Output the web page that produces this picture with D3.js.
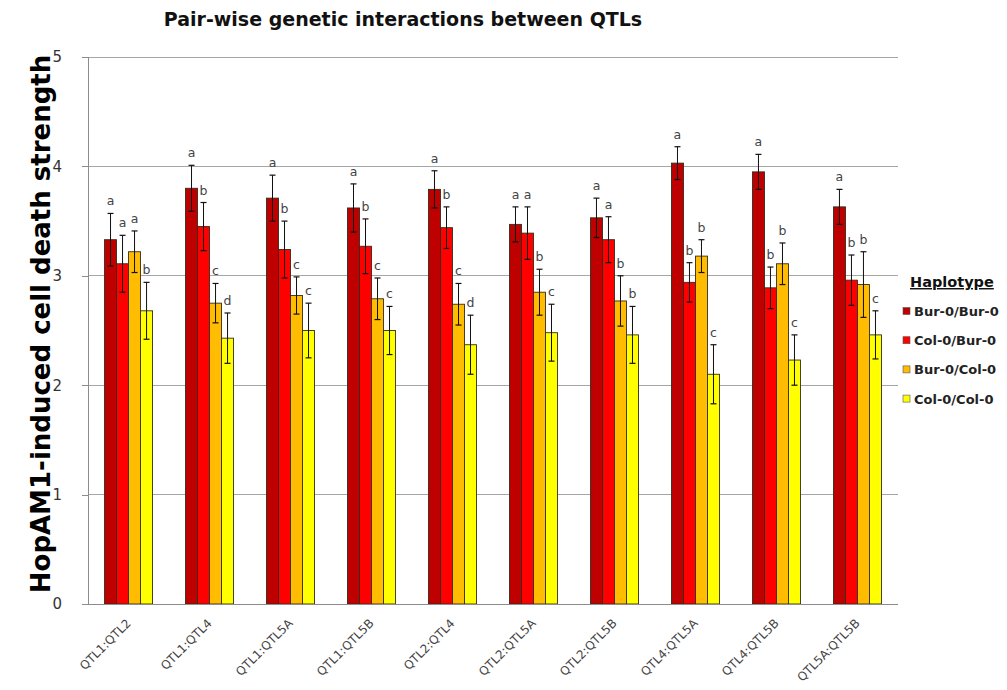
<!DOCTYPE html>
<html>
<head>
<meta charset="utf-8">
<script src="https://cdnjs.cloudflare.com/ajax/libs/d3/7.8.5/d3.min.js"></script>
<style>
  html, body { margin: 0; padding: 0; background: #ffffff; }
  svg { display: block; }
</style>
</head>
<body>
<svg id="chart" width="1007" height="690"></svg>
<script>
// Pair combinations of QTLs
const categories = ["QTL1:QTL2", "QTL1:QTL4", "QTL1:QTL5A", "QTL1:QTL5B", "QTL2:QTL4",
                    "QTL2:QTL5A", "QTL2:QTL5B", "QTL4:QTL5A", "QTL4:QTL5B", "QTL5A:QTL5B"];

// Haplotype series
const haplotypes = ["Bur-0/Bur-0", "Col-0/Bur-0", "Bur-0/Col-0", "Col-0/Col-0"];

// Mean cell death strength per haplotype
const burBur = [3.33, 3.80, 3.71, 3.62, 3.79, 3.47, 3.53, 4.03, 3.95, 3.63];
const colBur = [3.11, 3.45, 3.24, 3.27, 3.44, 3.39, 3.33, 2.94, 2.89, 2.96];
const burCol = [3.22, 2.75, 2.82, 2.79, 2.74, 2.85, 2.77, 3.18, 3.11, 2.92];
const colCol = [2.68, 2.43, 2.50, 2.50, 2.37, 2.48, 2.46, 2.10, 2.23, 2.46];

// Error bar half-widths
const burBurErr = [0.24, 0.21, 0.21, 0.22, 0.17, 0.16, 0.18, 0.15, 0.16, 0.16];
const colBurErr = [0.26, 0.22, 0.26, 0.25, 0.19, 0.24, 0.21, 0.18, 0.19, 0.23];
const burColErr = [0.19, 0.18, 0.17, 0.19, 0.19, 0.21, 0.23, 0.15, 0.19, 0.30];
const colColErr = [0.26, 0.23, 0.25, 0.22, 0.27, 0.26, 0.26, 0.27, 0.23, 0.22];

// Significance groups
const burBurSig = ["a", "a", "a", "a", "a", "a", "a", "a", "a", "a"];
const colBurSig = ["a", "b", "b", "b", "b", "a", "a", "b", "b", "b"];
const burColSig = ["a", "c", "c", "c", "c", "b", "b", "b", "b", "b"];
const colColSig = ["b", "d", "c", "c", "d", "c", "b", "c", "c", "c"];

const yTicks = [0, 1, 2, 3, 4, 5];

const seriesValues = [burBur, colBur, burCol, colCol];
const seriesErrors = [burBurErr, colBurErr, burColErr, colColErr];
const seriesSig = [burBurSig, colBurSig, burColSig, colColSig];
const colors = ["#BE0000", "#FF0000", "#FFBC00", "#FFFF00"];

const svg = d3.select("#chart");
const plotLeft = 88, plotRight = 898, plotTop = 57, plotBottom = 604;

const x0 = d3.scaleBand().domain(categories).range([plotLeft, plotRight])
  .paddingInner(0.407).paddingOuter(0.204);
const x1 = d3.scaleBand().domain(haplotypes).range([0, x0.bandwidth()]).padding(0);
const y = d3.scaleLinear().domain([0, 5]).range([plotBottom, plotTop]);

// Title
svg.append("text")
  .attr("x", 403).attr("y", 26)
  .attr("text-anchor", "middle")
  .style("font-family", "'DejaVu Sans', Verdana, sans-serif")
  .style("font-weight", "bold")
  .style("font-size", "19px")
  .style("fill", "#111")
  .text("Pair-wise genetic interactions between QTLs");

// Horizontal gridlines
svg.append("g").selectAll("line")
  .data(yTicks.filter(d => d > 0))
  .join("line")
  .attr("x1", plotLeft).attr("x2", plotRight)
  .attr("y1", d => y(d)).attr("y2", d => y(d))
  .attr("stroke", "#a6a6a6").attr("stroke-width", 1)
  .attr("shape-rendering", "crispEdges");

// Y axis
const yAxis = svg.append("g")
  .attr("transform", `translate(${plotLeft},0)`)
  .call(d3.axisLeft(y).tickValues(yTicks).tickSize(6).tickPadding(20).tickFormat(d3.format("d")));
yAxis.select(".domain").attr("stroke", "#8c8c8c").attr("shape-rendering", "crispEdges");
yAxis.selectAll(".tick line").attr("stroke", "#8c8c8c").attr("shape-rendering", "crispEdges");
yAxis.selectAll(".tick text")
  .style("font-family", "'DejaVu Sans', Verdana, sans-serif")
  .style("font-size", "15px")
  .style("fill", "#333");

// Y axis title
svg.append("text")
  .attr("transform", "translate(50,324) rotate(-90)")
  .attr("text-anchor", "middle")
  .style("font-family", "'DejaVu Sans', Verdana, sans-serif")
  .style("font-weight", "bold")
  .style("font-size", "26px")
  .style("fill", "#000")
  .text("HopAM1-induced cell death strength");

// Bars
const groups = svg.append("g").selectAll("g")
  .data(categories)
  .join("g")
  .attr("transform", d => `translate(${x0(d)},0)`);

const cells = groups.selectAll("g")
  .data((c, i) => haplotypes.map((h, s) => ({
    h, s,
    v: seriesValues[s][i],
    e: seriesErrors[s][i],
    sig: seriesSig[s][i]
  })))
  .join("g");

cells.append("rect")
  .attr("x", d => x1(d.h))
  .attr("y", d => y(d.v))
  .attr("width", x1.bandwidth())
  .attr("height", d => y(0) - y(d.v))
  .attr("fill", d => colors[d.s])
  .attr("stroke", "#332d1c")
  .attr("stroke-width", 0.9);

// Error bars
const cx = d => x1(d.h) + x1.bandwidth() / 2;
cells.append("line")
  .attr("x1", cx).attr("x2", cx)
  .attr("y1", d => y(d.v + d.e)).attr("y2", d => y(d.v - d.e))
  .attr("stroke", "#111").attr("stroke-width", 1);
cells.append("line")
  .attr("x1", d => cx(d) - 3).attr("x2", d => cx(d) + 3)
  .attr("y1", d => y(d.v + d.e)).attr("y2", d => y(d.v + d.e))
  .attr("stroke", "#111").attr("stroke-width", 1.2);
cells.append("line")
  .attr("x1", d => cx(d) - 3).attr("x2", d => cx(d) + 3)
  .attr("y1", d => y(d.v - d.e)).attr("y2", d => y(d.v - d.e))
  .attr("stroke", "#111").attr("stroke-width", 1.2);

// Significance letters
cells.append("text")
  .attr("x", cx)
  .attr("y", d => y(d.v + d.e) - 8)
  .attr("text-anchor", "middle")
  .style("font-family", "'DejaVu Sans', Verdana, sans-serif")
  .style("font-size", "12.5px")
  .style("fill", "#444")
  .text(d => d.sig);

// Baseline
svg.append("line")
  .attr("x1", plotLeft).attr("x2", plotRight)
  .attr("y1", y(0)).attr("y2", y(0))
  .attr("stroke", "#8c8c8c").attr("shape-rendering", "crispEdges");

// Category labels
svg.append("g").selectAll("text")
  .data(categories)
  .join("text")
  .attr("transform", d => `translate(${x0(d) + x0.bandwidth() / 2 + 3},624) rotate(-45)`)
  .attr("text-anchor", "end")
  .style("font-family", "'DejaVu Sans', Verdana, sans-serif")
  .style("font-size", "12px")
  .style("fill", "#444")
  .text(d => d);

// Legend
const legend = svg.append("g");
legend.append("text")
  .attr("x", 910).attr("y", 287)
  .style("font-family", "'DejaVu Sans', Verdana, sans-serif")
  .style("font-weight", "bold")
  .style("font-size", "14.5px")
  .style("fill", "#111")
  .style("text-decoration", "underline")
  .text("Haplotype");

const items = legend.selectAll("g.item")
  .data(haplotypes)
  .join("g")
  .attr("class", "item")
  .attr("transform", (d, i) => `translate(0,${311 + i * 29.2})`);
items.append("rect")
  .attr("x", 903).attr("y", -3.5).attr("width", 7).attr("height", 7)
  .attr("fill", (d, i) => colors[i])
  .attr("stroke", "#555").attr("stroke-width", 0.6);
items.append("text")
  .attr("x", 914).attr("y", 5)
  .style("font-family", "'DejaVu Sans', Verdana, sans-serif")
  .style("font-weight", "bold")
  .style("font-size", "13px")
  .style("fill", "#222")
  .text(d => d);
</script>
</body>
</html>
